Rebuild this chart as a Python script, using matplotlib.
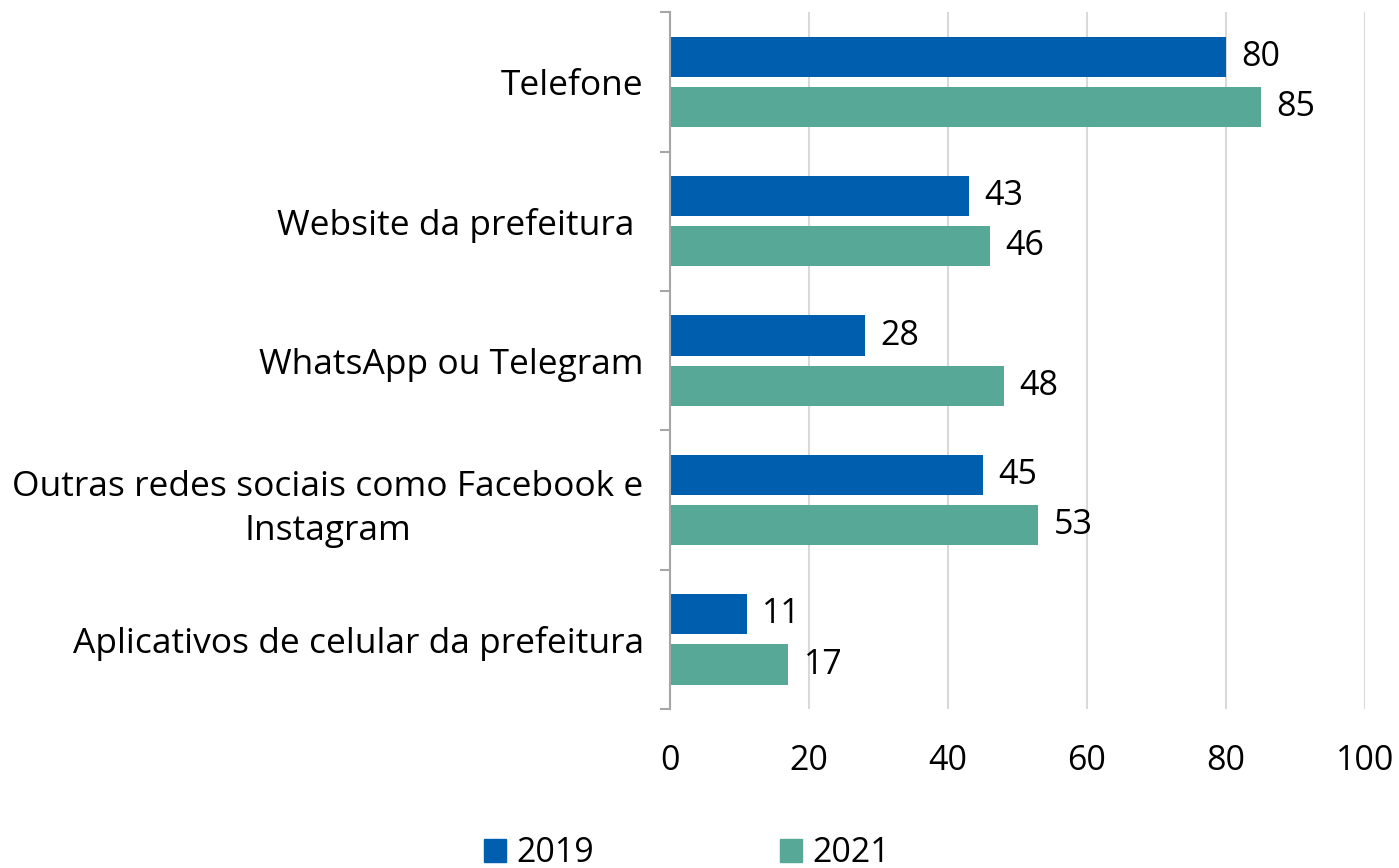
import numpy as np
import matplotlib.pyplot as plt
from matplotlib.patches import Patch

plt.rcParams['font.family'] = ['Open Sans', 'DejaVu Sans']

categorias = ['Telefone', 'Website da prefeitura ', 'WhatsApp ou Telegram',
              'Outras redes sociais como Facebook e\nInstagram',
              'Aplicativos de celular da prefeitura']
v2019 = [80, 43, 28, 45, 11]
v2021 = [85, 46, 48, 53, 17]
anos = ['2019', '2021']
cores = ['#005EAE', '#57A897']

fs = 24.5

fig = plt.figure(figsize=(13.99, 8.68), dpi=100)
ax = fig.add_axes([0.479, 0.183, 0.4967, 0.803])

y = np.arange(len(categorias))
h = 0.288
b1 = ax.barh(y - 0.18, v2019, height=h, color=cores[0], zorder=3)
b2 = ax.barh(y + 0.18, v2021, height=h, color=cores[1], zorder=3)

for bars, vals in ((b1, v2019), (b2, v2021)):
    for r, v in zip(bars, vals):
        ax.annotate(str(v), (v, r.get_y() + r.get_height() / 2),
                    xytext=(11, 0), textcoords='offset points',
                    va='center', ha='left', fontsize=fs)

ax.set_xlim(0, 100)
ax.set_ylim(len(categorias) - 0.5, -0.5)
ax.set_xticks(range(0, 101, 20))
ax.set_yticks(y)
ax.set_yticklabels(categorias, fontsize=fs + 1, multialignment='center',
                   linespacing=1.4)
ax.set_yticks(np.arange(-0.5, len(categorias), 1), minor=True)
ax.tick_params(axis='y', which='major', length=0, pad=19)
ax.tick_params(axis='y', which='minor', length=7, color='#A6A6A6', width=1.5)
ax.tick_params(axis='x', length=0, pad=25, labelsize=fs)

ax.grid(axis='x', color='#D9D9D9', linewidth=1.5, zorder=0)
for s in ('top', 'right', 'bottom'):
    ax.spines[s].set_visible(False)
ax.spines['left'].set_color('#A6A6A6')
ax.spines['left'].set_linewidth(1.5)
ax.spines['left'].set_zorder(4)

handles = [Patch(color=c) for c in cores]
fig.legend(handles, anos, loc='center', bbox_to_anchor=(0.491, 0.017), ncol=2,
           frameon=False, fontsize=fs, handlelength=0.65, handleheight=0.65,
           handletextpad=0.3, columnspacing=5.45, borderpad=0)

fig.savefig('out.png', dpi=100)
